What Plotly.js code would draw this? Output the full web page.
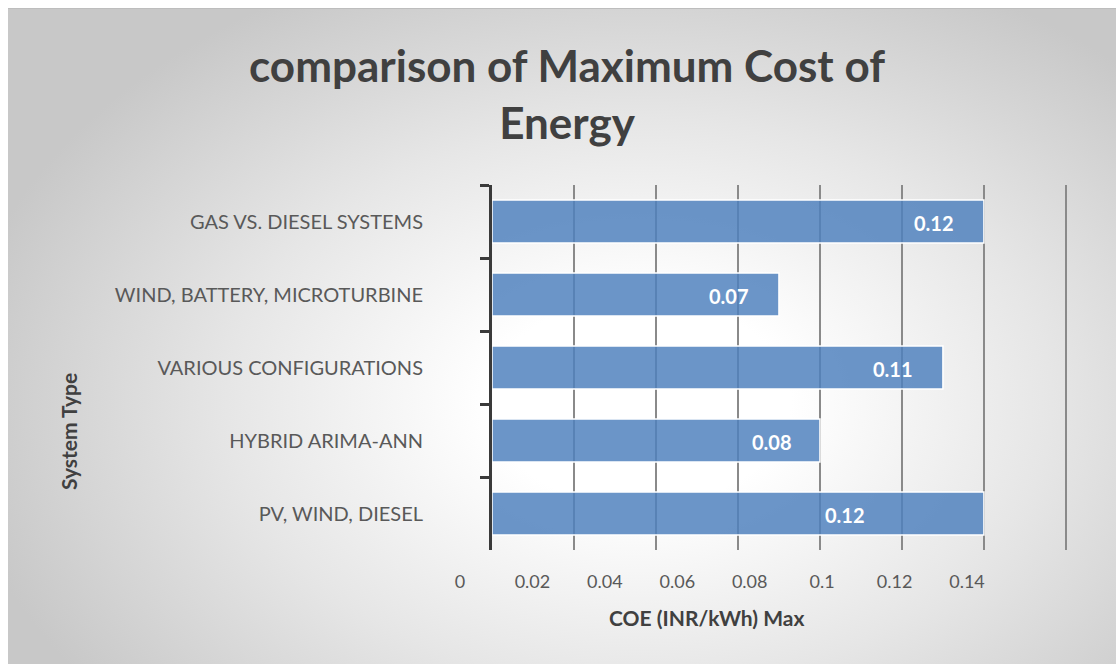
<!DOCTYPE html>
<html>
<head>
<meta charset="utf-8">
<script src="https://cdn.plot.ly/plotly-3.0.1.min.js"></script>
<style>
  html, body { margin: 0; padding: 0; background: #ffffff; }
  #bg {
    position: absolute; left: 8px; top: 8px; width: 1108px; height: 656px;
    border-top: 1px solid #bdbdbd;
    box-sizing: border-box;
    background: radial-gradient(ellipse 62% 72% at 57% 60%, #ffffff 0%, #ffffff 22%, #e6e6e6 60%, #c8c8c8 100%);
  }
  #chart { position: absolute; left: 0; top: 0; width: 1116px; height: 664px; }
</style>
</head>
<body>
<div id="bg"></div>
<div id="chart"></div>
<script>
// ---- data ----
const categories = [
  "GAS VS. DIESEL SYSTEMS",
  "WIND, BATTERY, MICROTURBINE",
  "VARIOUS CONFIGURATIONS",
  "HYBRID ARIMA-ANN",
  "PV, WIND, DIESEL"
];
const coeMax = [0.12, 0.07, 0.11, 0.08, 0.12];
const xTickValues = [0, 0.02, 0.04, 0.06, 0.08, 0.1, 0.12, 0.14];
const xTickLabels = ["0", "0.02", "0.04", "0.06", "0.08", "0.1", "0.12", "0.14"];

// ---- styles / geometry ----
const FONT = "Lato, 'Open Sans', sans-serif";
const labelShift = [-28, -28, -28, -26, -117];
const W = 1116, H = 664;
const M = { l: 440, r: 46, t: 185, b: 114 };
const plotW = W - M.l - M.r;
const plotH = H - M.t - M.b;
const axisLeftPx = 492;
const xDomainStart = (axisLeftPx - M.l) / plotW;
const xRangeEnd = 0.141;   // small pad so the last gridline (0.14) is drawn
// label scale (tick labels are drawn on a separate axis, as in the original)
const lblPxPerUnit = (967 - 460) / 0.14;
const lblStart = -(460 - M.l) / lblPxPerUnit;
const lblEnd = lblStart + plotW / lblPxPerUnit;

const trace = {
  type: "bar",
  orientation: "h",
  y: categories,
  x: coeMax,
  xaxis: "x",
  yaxis: "y",
  marker: {
    color: "rgba(79,129,189,0.84)",
    line: { color: "#ffffff", width: 1.5 }
  },
  hoverinfo: "x+y",
  showlegend: false
};

const labelTrace = {
  type: "scatter",
  mode: "markers",
  x: [xTickValues[0]],
  y: [categories[0]],
  xaxis: "x2",
  yaxis: "y",
  marker: { opacity: 0 },
  hoverinfo: "skip",
  showlegend: false
};

const annotations = categories.map((c, i) => ({
  x: coeMax[i],
  y: c,
  xref: "x",
  yref: "y",
  text: coeMax[i].toFixed(2),
  showarrow: false,
  xanchor: "right",
  yanchor: "middle",
  xshift: labelShift[i],
  yshift: -1,
  font: { family: FONT, size: 20, color: "#ffffff", weight: "bold" }
}));

annotations.push({
  text: "COE (INR/kWh) Max",
  xref: "paper", yref: "paper",
  x: (706 - M.l) / plotW, y: -(617 - (H - M.b)) / plotH,
  xanchor: "center", yanchor: "middle",
  showarrow: false,
  font: { family: FONT, size: 21, color: "#404040", weight: "bold" }
});
annotations.push({
  text: "System Type",
  xref: "paper", yref: "paper",
  x: -(M.l - 68) / plotW, y: ((H - M.b) - 432) / plotH,
  xanchor: "center", yanchor: "middle",
  textangle: -90,
  showarrow: false,
  font: { family: FONT, size: 21, color: "#404040", weight: "bold" }
});

const layout = {
  width: W,
  height: H,
  paper_bgcolor: "rgba(0,0,0,0)",
  plot_bgcolor: "rgba(0,0,0,0)",
  margin: { l: M.l, r: M.r, t: M.t, b: M.b, pad: 0 },
  title: {
    text: "comparison of Maximum Cost of<br>Energy",
    x: 567 / W,
    xref: "container",
    xanchor: "center",
    y: 1 - 82 / H,
    yref: "container",
    yanchor: "top",
    font: { family: FONT, size: 44, color: "#404040", weight: "bold" }
  },
  bargap: 0.41,
  xaxis: {
    domain: [xDomainStart, 1],
    anchor: "y",
    range: [0, xRangeEnd],
    showgrid: true,
    gridcolor: "#8a8a8a",
    gridwidth: 2,
    tickvals: xTickValues,
    showticklabels: false,
    ticks: "",
    zeroline: false,
    showline: false,
    fixedrange: true
  },
  xaxis2: {
    domain: [0, 1],
    anchor: "y",
    side: "bottom",
    range: [lblStart, lblEnd],
    tickvals: xTickValues,
    ticktext: xTickLabels,
    showgrid: false,
    zeroline: false,
    showline: false,
    ticks: "",
    ticklabelstandoff: 19,
    tickfont: { family: FONT, size: 18, color: "#595959" },
    fixedrange: true
  },
  yaxis: {
    type: "category",
    anchor: "x",
    autorange: "reversed",
    showgrid: false,
    zeroline: false,
    showline: true,
    linecolor: "#3a3a3a",
    linewidth: 3,
    ticks: "outside",
    tickson: "boundaries",
    ticklen: 9,
    tickwidth: 3,
    tickcolor: "#3a3a3a",
    ticklabelstandoff: 62,
    tickfont: { family: FONT, size: 20, color: "#595959" },
    fixedrange: true
  },
  annotations: annotations
};

Plotly.newPlot("chart", [trace, labelTrace], layout, { displayModeBar: false, staticPlot: true });
</script>
</body>
</html>
